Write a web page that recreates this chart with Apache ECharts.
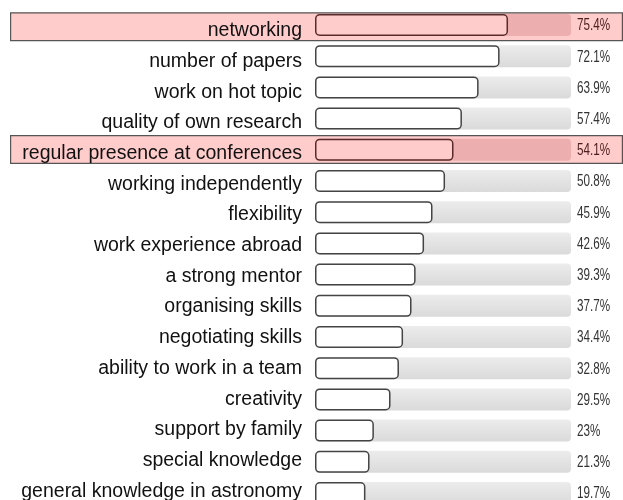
<!DOCTYPE html>
<html>
<head>
<meta charset="utf-8">
<script src="https://cdn.jsdelivr.net/npm/echarts@6/dist/echarts.min.js"></script>
<style>
  html, body { margin: 0; padding: 0; background: #fff; overflow: hidden; }
  /* the original is cut off at the bottom, so the canvas runs past the window */
  #main { width: 623px; height: 530px; }
</style>
</head>
<body>
<div id="main"></div>
<script>
// factors, top to bottom
var categories = ['networking', 'number of papers', 'work on hot topic', 'quality of own research',
  'regular presence at conferences', 'working independently', 'flexibility', 'work experience abroad',
  'a strong mentor', 'organising skills', 'negotiating skills', 'ability to work in a team',
  'creativity', 'support by family', 'special knowledge', 'general knowledge in astronomy'];
var values = [75.4, 72.1, 63.9, 57.4, 54.1, 50.8, 45.9, 42.6, 39.3, 37.7, 34.4, 32.8, 29.5, 23, 21.3, 19.7];
var highlighted = ['networking', 'regular presence at conferences'];
var fullScale = 100;

var chart = echarts.init(document.getElementById('main'));

var isHi = function (i) { return highlighted.indexOf(categories[i]) >= 0; };

var trackData = [];
var barData = [];
var bandData = [];
var labelData = [];
for (var i = 0; i < categories.length; i++) {
  trackData.push({
    value: fullScale,
    itemStyle: isHi(i) ? { color: 'rgba(150,40,40,0.18)' } : undefined
  });
  barData.push({
    value: values[i],
    itemStyle: isHi(i) ? { color: '#ffcccc', borderColor: '#5a2a2a' } : undefined
  });
  bandData.push(isHi(i) ? 1 : null);
  labelData.push([fullScale, categories[i]]);
}

// percent text, drawn a bit condensed like the original
var renderPct = function (params, api) {
  var idx = params.dataIndex;
  var pt = api.coord([api.value(0), api.value(1)]);
  return {
    type: 'text',
    x: pt[0] + 6,
    y: pt[1] + 1,
    scaleX: 0.73,
    style: {
      text: values[idx] + '%',
      font: '16px "Liberation Sans", Arial, sans-serif',
      fill: isHi(idx) ? '#4a1c1c' : '#333',
      align: 'left',
      verticalAlign: 'middle'
    }
  };
};

// bars run on a slightly wider row pitch than the text column
var barTop = 9.4, barH = 499.2;
var textTop = 11.4, textH = 491.2;

chart.setOption({
  animation: false,
  grid: [
    { left: 315, right: 52, top: barTop, height: barH },
    { left: 10, right: -2, top: textTop, height: textH },
    { left: 315, right: 52, top: textTop, height: textH }
  ],
  xAxis: [
    { gridIndex: 0, type: 'value', min: 0, max: fullScale, show: false },
    { gridIndex: 1, type: 'value', min: 0, max: 1, show: false },
    { gridIndex: 2, type: 'value', min: 0, max: 1, show: false }
  ],
  yAxis: [
    { gridIndex: 0, type: 'category', inverse: true, data: categories, show: false },
    { gridIndex: 1, type: 'category', inverse: true, data: categories, show: false },
    {
      gridIndex: 2, type: 'category', inverse: true, data: categories, z: 3,
      axisLine: { show: false }, axisTick: { show: false }, splitLine: { show: false },
      axisLabel: {
        margin: 13, verticalAlign: 'top', lineHeight: 8,
        fontFamily: 'Liberation Sans, Arial, sans-serif', fontSize: 19.5, color: '#111'
      }
    }
  ],
  series: [
    {
      // highlight bands
      type: 'bar', xAxisIndex: 1, yAxisIndex: 1, data: bandData, barWidth: 29, z: 0,
      silent: true,
      itemStyle: { color: '#ffcccc', borderColor: '#555', borderWidth: 1.2 }
    },
    {
      // grey track = 100%
      type: 'bar', data: trackData, barWidth: 22, z: 1,
      itemStyle: {
        borderRadius: 4,
        color: new echarts.graphic.LinearGradient(0, 0, 0, 1, [
          { offset: 0, color: '#ececec' }, { offset: 1, color: '#dadada' }
        ])
      }
    },
    {
      type: 'bar', data: barData, barWidth: 22, barGap: '-100%', z: 2,
      itemStyle: { color: '#fff', borderColor: '#444', borderWidth: 1.5, borderRadius: 4 }
    },
    {
      type: 'custom', data: labelData, z: 4, renderItem: renderPct,
      encode: { x: 0, y: 1 }
    }
  ]
});
</script>
</body>
</html>
